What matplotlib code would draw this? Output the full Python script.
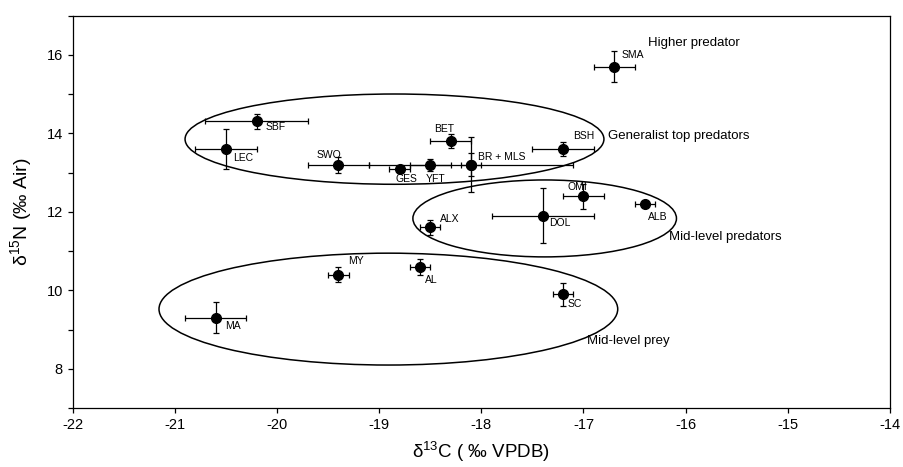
import matplotlib
matplotlib.use("Agg")
import matplotlib.pyplot as plt
from matplotlib.patches import Ellipse
from matplotlib.ticker import MultipleLocator

plt.rcParams["font.family"] = ["Liberation Sans", "DejaVu Sans"]
plt.rcParams["mathtext.fontset"] = "custom"
plt.rcParams["mathtext.rm"] = "Liberation Sans"
plt.rcParams["mathtext.it"] = "Liberation Sans:italic"
plt.rcParams["axes.unicode_minus"] = False

# species means and errors (d13C, d15N)
species = ["SMA", "SBF", "LEC", "SWO", "GES", "YFT", "BET", "BR", "MLS", "BSH",
           "OMI", "ALB", "ALX", "DOL", "MY", "AL", "MA", "SC"]
d13c = [-16.7, -20.2, -20.5, -19.4, -18.8, -18.5, -18.3, -18.1, -18.1, -17.2,
        -17.0, -16.4, -18.5, -17.4, -19.4, -18.6, -20.6, -17.2]
d15n = [15.7, 14.3, 13.6, 13.2, 13.1, 13.2, 13.8, 13.2, 13.2, 13.6,
        12.4, 12.2, 11.6, 11.9, 10.4, 10.6, 9.3, 9.9]
c_err = [0.2, 0.5, 0.3, 0.3, 0.1, 0.2, 0.2, 1.0, 0.1, 0.3,
         0.2, 0.1, 0.1, 0.5, 0.1, 0.1, 0.3, 0.1]
n_err = [0.4, 0.18, 0.5, 0.2, 0.05, 0.15, 0.18, 0.7, 0.3, 0.18,
         0.32, 0.05, 0.19, 0.7, 0.19, 0.2, 0.4, 0.29]

# text shown next to each point (BR and MLS share one label)
labels = {"SMA": "SMA", "SBF": "SBF", "LEC": "LEC", "SWO": "SWO", "GES": "GES",
          "YFT": "YFT", "BET": "BET", "BR": "BR + MLS", "BSH": "BSH", "OMI": "OMI",
          "ALB": "ALB", "ALX": "ALX", "DOL": "DOL", "MY": "MY", "AL": "AL",
          "MA": "MA", "SC": "SC"}

groups = ["Higher predator", "Generalist top predators", "Mid-level predators", "Mid-level prey"]

# layout: label offsets in pixels, group text spots, ellipses
lab_off = {"SMA": (7, 12), "SBF": (9, -6), "LEC": (7, -9), "SWO": (-22, 10),
           "GES": (-4, -10), "YFT": (-5, -14), "BET": (-17, 12), "BR": (7, 8),
           "BSH": (10, 13), "OMI": (-16, 9), "ALB": (3, -13), "ALX": (10, 8),
           "DOL": (6, -7), "MY": (10, 14), "AL": (5, -13), "MA": (9, -8), "SC": (5, -10)}
group_xy = [(-16.37, 16.3), (-16.76, 13.93), (-16.16, 11.35), (-16.97, 8.71)]
ellipses = [((-18.85, 13.85), 4.1, 2.3), ((-17.38, 11.83), 2.58, 1.96),
            ((-18.91, 9.52), 4.49, 2.85)]

fig = plt.figure(figsize=(9.04, 4.67), dpi=100)
ax = fig.add_axes([0.0804, 0.1263, 0.9041, 0.8405])

for (c, w, h) in ellipses:
    ax.add_patch(Ellipse(c, w, h, fill=False, ec="black", lw=1.1, zorder=1))

ax.errorbar(d13c, d15n, xerr=c_err, yerr=n_err, fmt="o", color="black", ms=7,
            capsize=2.5, elinewidth=0.9, capthick=0.9, zorder=3)

for i in range(len(species)):
    sp = species[i]
    if sp in labels:
        ax.annotate(labels[sp], (d13c[i], d15n[i]), xytext=lab_off[sp],
                    textcoords="offset pixels", fontsize=7.5, ha="left", va="center")

for g, (gx, gy) in zip(groups, group_xy):
    ax.text(gx, gy, g, fontsize=9.5, ha="left", va="center")

ax.set_xlim(-22, -14)
ax.set_ylim(7, 17)
ax.xaxis.set_major_locator(MultipleLocator(1))
ax.yaxis.set_major_locator(MultipleLocator(2))
ax.yaxis.set_minor_locator(MultipleLocator(1))
ax.tick_params(which="both", direction="out", length=3.5, width=0.9, labelsize=10.5)
for s in ax.spines.values():
    s.set_linewidth(0.9)

ax.set_xlabel("δ$^{13}$C ( ‰ VPDB)", fontsize=13.5, labelpad=6,
              family=["Liberation Sans Narrow", "Liberation Sans"])
ax.set_ylabel("δ$^{15}$N (‰ Air)", fontsize=14, labelpad=9)

fig.savefig("out.png", dpi=100)
